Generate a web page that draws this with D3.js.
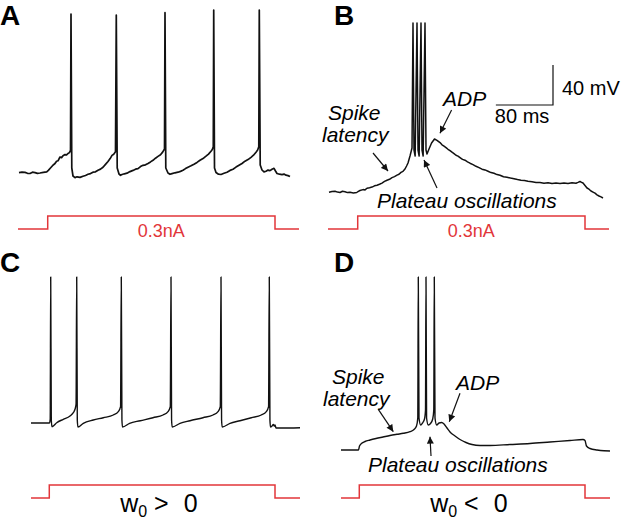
<!DOCTYPE html>
<html>
<head>
<meta charset="utf-8">
<script src="https://cdn.jsdelivr.net/npm/d3@7"></script>
<style>
  body { margin: 0; background: #fff; }
  svg { display: block; }
  text { font-family: "Liberation Sans", Arial, Helvetica, sans-serif; }
</style>
</head>
<body>
<svg id="fig" width="626" height="524"></svg>
<script>
// membrane potential traces, [time (ms), V (mV)]
const traceA = [[1.4,-69.7],[5.6,-69.1],[9.8,-69.4],[13.3,-70.3],[16.8,-70.5],[20.3,-69.2],[23.8,-69.6],[27.3,-70.4],[30.8,-70],[35.5,-69.3],[40.2,-68.9],[42.5,-67.4],[44.8,-65.5],[48.3,-62.7],[51.8,-60.5],[54,-58.2],[56,-57.8],[58.8,-54],[61,-54.6],[63,-52.8],[65.8,-51.6],[68,-51.9],[70,-50.5],[72,-49.6],[73.5,-47.5],[74.2,89],[75.3,-65],[77,-73],[79.8,-74.6],[82.6,-73.8],[86.8,-74.4],[91,-73.2],[94.5,-72.5],[98,-71.3],[101.5,-70.6],[105,-69.2],[108.5,-68.8],[112,-67.2],[115.5,-66.1],[119,-64.3],[122.5,-61.4],[126,-58.5],[129,-55.6],[131.6,-52.4],[134,-51.2],[136.5,-48.8],[137.6,88],
  [138.9,-65],[141.4,-71],[143.5,-72.3],[145.6,-71.5],[149,-70.8],[152.6,-70.2],[156.8,-68.6],[161,-67.4],[164.5,-66.2],[168,-65.7],[171.5,-63.6],[175,-62.3],[178.5,-61.8],[182,-60.4],[185.5,-58.9],[189,-57.3],[192.5,-55.2],[196,-53.4],[199.5,-51.8],[202.5,-49.1],[205.1,-46],[205.8,90.3],
  [206.9,-65],[210,-70],[212.8,-71.3],[215.6,-70.6],[219.8,-69.8],[224,-69.2],[227.5,-68.4],[231,-67.3],[234.5,-65.6],[238,-64.2],[242.2,-62.8],[246.4,-61.2],[250.6,-59.4],[254.8,-57.3],[259,-55.6],[263.2,-53.2],[266.7,-51.1],[270.2,-48.3],[272,-46.5],[273.4,-43.7],[274,93],
  [275.1,-65],[277.2,-69.5],[280.7,-71.2],[284.2,-71.5],[288.4,-70.3],[292.6,-69.2],[296.8,-67.4],[301,-66.2],[305.2,-64.1],[309.4,-62.3],[313.6,-60.5],[317.8,-58.2],[322,-56.6],[326.2,-54.3],[329.7,-52.2],[333.2,-49.2],[335.5,-47.1],[337.1,-43.7],[337.8,93],
  [339.1,-62],[341.6,-67],[344.4,-68.9],[347.2,-68.3],[350,-67.1],[352.8,-67.6],[355.6,-66.2],[358.4,-65.3],[360.5,-68],[362.6,-70.5],[366.1,-71.2],[369.6,-71.6],[372.4,-71.1],[375.2,-72.2],[378,-72.6],[380.8,-73.5]];

const traceB = [[1.4,-70.3],[5.6,-69.6],[9.8,-69.2],[13.3,-70.1],[16.8,-70.5],[20.3,-69.3],[23.8,-69.7],[27.3,-70.6],[30.8,-70.3],[35.5,-70.9],[40.2,-70.5],[42.5,-69.4],[44.8,-68.5],[49,-67.6],[51.8,-67.9],[54.6,-66.2],[58.1,-65.7],[61.6,-65.1],[65.1,-63.8],[68.6,-63.2],[72.1,-62.3],[75.6,-61.1],[79.1,-59.4],[82.6,-58.2],[86.1,-57.3],[89.6,-55.6],[93.1,-54.6],[96.6,-53.1],[99.4,-52.2],[102.2,-50.4],[105,-49.3],[107.8,-47],[110,-44],[112,-41],[114.8,-34],[117.6,-26],
  [119,99],[120.4,-28],[122,-34],[124.6,99],[126,-28],[127.6,-34],[130.2,99],[131.6,-28],[133.2,-34],[135.8,99],[137.2,-28],[138.6,-32],
  [141.4,-27],[145,-21],[149.1,-17],[152.6,-18.3],[156.8,-20.6],[159.6,-22.8],[162.4,-24.2],[165.2,-25.6],[168,-27.3],[170.8,-28.6],[173.6,-30.2],[176.4,-31.6],[179.2,-33.3],[182,-34.1],[184.8,-35.6],[188.3,-37.4],[191.8,-38.2],[195.3,-39.8],[198.8,-41.2],[203,-42.6],[207.2,-44.3],[211.4,-45.6],[215.6,-47.2],[219.8,-47.9],[224,-49.2],[228.2,-50.6],[232.4,-51.3],[236.6,-52.6],[240.8,-53.2],[245.7,-54.8],[250.6,-55.3],[255.5,-56.1],[260.4,-56.8],[265.3,-57.6],[270.2,-58.3],[275.1,-58.6],[280,-59.3],[285.6,-59.8],[291.2,-60.4],[296.8,-60.6],[302.4,-61.2],[308,-60.7],[313.6,-61.6],[319.2,-61.1],[324.8,-61.4],[330.4,-60.9],[336,-61.6],[341.6,-60.8],[347.2,-61.2],[350,-60.4],[352.8,-59.5],[355,-60.3],[357,-61],[362.6,-66],[365.4,-67.2],[368.2,-69],[371,-70.1],[373.8,-71.2],[376.6,-72.8],[379.4,-74],[382.2,-74.9],[385,-76]];

const traceC = [[0,-70],[25.9,-70],[26.9,-66],[27.6,76],[28.4,-67],[29.4,-73.7],[36,-69.7],[45.2,-66.3],[54.6,-63],[59.2,-59.7],[61.6,-56.3],[63.1,-51],[64,76],[64.8,-67],[65.7,-74],[73.2,-70.3],[87.2,-67],[101.2,-64.7],[115.2,-62],[122.2,-58.7],[125.4,-53.7],[126.4,76],[127.3,-67],[128.1,-74],[138,-70.3],[153,-67.7],[170.8,-64.7],[184.8,-62],[191.8,-58.7],[195,-53.7],[196,76],[196.8,-67],[197.7,-74],[208.6,-70.3],[222.6,-67.7],[240.8,-64.7],[254.8,-62],[261.8,-58.7],[265,-53.7],[266,76],[266.8,-67],[267.7,-74],[278.6,-70.3],[292.6,-67.7],[308.4,-64.7],[322.4,-62],[329.4,-58.7],[332.6,-53.7],[333.6,76],[334.5,-67],[335.3,-74],[337.4,-73],[339.2,-71.5],[340.6,-73],[341.6,-72],[343,-75],[348.6,-75],[376.6,-74.7]];

const traceD = [[0,-70],[24.5,-70],[25.9,-66],[29,-63.3],[33.6,-61.5],[40.6,-60],[49,-58.5],[58.8,-57],[68.6,-55.5],[78.4,-54.3],[87.2,-53.3],[96.6,-51.7],[102.2,-49.5],[105.7,-46],[107.5,-38],[108.2,103],[109.2,-38],[111.6,-45],[114.1,-43],[116.9,-39],[118.3,-30],[119,103],[119.8,-38],[122.2,-45],[125.3,-43.5],[128.4,-39],[129.9,-30],[130.6,103],[131.6,-38],[134,-45],[137.2,-43],[141,-42.5],[144.2,-44],[148.4,-48],[152.6,-52],[159.6,-56],[166.6,-59.5],[175,-62.5],[183.4,-64.5],[194.6,-65.5],[208.6,-65.5],[236.6,-64.5],[264.6,-63.5],[292.6,-62],[320.6,-60.5],[338.8,-59.5],[341.6,-60.5],[343.7,-66],[348.6,-68.5],[358.4,-70],[368.2,-70.8],[376.6,-71]];

// injected current steps: times (ms) and amplitude (nA)
const stepTimesAB = [0, 41.6, 359.8, 393.4];
const stepTimesCD = [0, 25.6, 341.6, 376.6];
const stepAmps = [0, 0.3, 0, 0];

const panelLetters = ["A", "B", "C", "D"];
const scaleBarMs = 80;
const scaleBarMv = 40;

// annotation arrows [tail t, tail V, tip t, tip V]
const arrowsB = [[63, -31, 84, -49], [173, 12, 156.8, -11.3], [152.6, -66, 134.4, -38]];
const arrowsD = [[52.2, -29.3, 73.2, -51.7], [166.6, -13.3, 151.6, -41.7], [126, -76, 124.6, -56.7]];

const red = "#e2363a";
const svg = d3.select("#fig");

svg.append("defs").append("marker")
    .attr("id", "head")
    .attr("viewBox", "0 0 10 10")
    .attr("refX", 10).attr("refY", 5)
    .attr("markerUnits", "userSpaceOnUse")
    .attr("markerWidth", 8).attr("markerHeight", 7)
    .attr("orient", "auto")
  .append("path")
    .attr("d", "M0,0L10,5L0,10z")
    .attr("fill", "#111");

const panels = [
  {letter: panelLetters[0], lx: 0, ly: 25, trace: traceA, steps: stepTimesAB, x0: 18, yRest: 173, yBase: 229, smooth: false, sw: 1.7},
  {letter: panelLetters[1], lx: 334, ly: 25, trace: traceB, steps: stepTimesAB, x0: 328, yRest: 192, yBase: 229, smooth: false, sw: 1.5},
  {letter: panelLetters[2], lx: 0, ly: 272, trace: traceC, steps: stepTimesCD, x0: 31, yRest: 423, yBase: 498, smooth: true, sw: 1.4},
  {letter: panelLetters[3], lx: 334, ly: 272, trace: traceD, steps: stepTimesCD, x0: 341, yRest: 450, yBase: 498, smooth: true, sw: 1.4}
];

panels.forEach(p => {
  const x = d3.scaleLinear().domain([0, 400]).range([p.x0, p.x0 + 400 / 1.4]);
  const y = d3.scaleLinear().domain([-70, 130]).range([p.yRest, p.yRest - 200]);
  const yI = d3.scaleLinear().domain([0, 0.3]).range([p.yBase, p.yBase - 13]);
  p.x = x; p.y = y;

  svg.append("text")
    .attr("x", p.lx).attr("y", p.ly)
    .attr("font-size", 28).attr("font-weight", "bold")
    .text(p.letter);

  const line = d3.line()
    .x(d => x(d[0]))
    .y(d => y(d[1]))
    .curve(p.smooth ? d3.curveMonotoneX : d3.curveLinear);

  svg.append("path")
    .datum(p.trace)
    .attr("d", line)
    .attr("fill", "none")
    .attr("stroke", "#111")
    .attr("stroke-width", p.sw)
    .attr("stroke-linejoin", "round");

  const step = d3.line()
    .x(d => x(d[0]))
    .y(d => yI(d[1]))
    .curve(d3.curveStepAfter);

  svg.append("path")
    .datum(p.steps.map((t, i) => [t, stepAmps[i]]))
    .attr("d", step)
    .attr("fill", "none")
    .attr("stroke", red)
    .attr("stroke-width", 1.5);
});

// current labels for A and B
[0, 1].forEach(i => {
  const p = panels[i];
  svg.append("text")
    .attr("x", p.x((p.steps[1] + p.steps[2]) / 2))
    .attr("y", 237)
    .attr("text-anchor", "middle")
    .attr("font-size", 18)
    .attr("fill", red)
    .text("0.3nA");
});

// w0 labels for C and D
[[2, ">"], [3, "<"]].forEach(([i, sign]) => {
  const p = panels[i];
  const cx = p.x((p.steps[1] + p.steps[2]) / 2);
  const t = svg.append("text")
    .attr("x", cx - 42).attr("y", 512)
    .attr("font-size", 25);
  t.append("tspan").text("w");
  t.append("tspan").attr("font-size", 16).attr("dy", 5).text("0");
  t.append("tspan").attr("dx", 7).attr("dy", -5).text(sign);
  t.append("tspan").attr("dx", 15).text("0");
});

// annotations
function annotate(p, arrows, labels) {
  arrows.forEach(a => {
    svg.append("line")
      .attr("x1", p.x(a[0])).attr("y1", p.y(a[1]))
      .attr("x2", p.x(a[2])).attr("y2", p.y(a[3]))
      .attr("stroke", "#111")
      .attr("stroke-width", 1.2)
      .attr("marker-end", "url(#head)");
  });
  labels.forEach(l => {
    svg.append("text")
      .attr("x", l[1]).attr("y", l[2])
      .attr("font-size", 21)
      .attr("font-style", "italic")
      .text(l[0]);
  });
}

annotate(panels[1], arrowsB, [["Spike", 328, 120], ["latency", 322, 142], ["ADP", 443, 106], ["Plateau oscillations", 377, 208]]);
annotate(panels[3], arrowsD, [["Spike", 332, 384], ["latency", 323, 406], ["ADP", 456, 390], ["Plateau oscillations", 368, 472]]);

// scale bar in panel B
const pb = panels[1];
const sbT = 315, sbV = 17;
svg.append("path")
  .attr("d", d3.line()([
    [pb.x(sbT - scaleBarMs), pb.y(sbV)],
    [pb.x(sbT), pb.y(sbV)],
    [pb.x(sbT), pb.y(sbV + scaleBarMv)]
  ]))
  .attr("fill", "none")
  .attr("stroke", "#111")
  .attr("stroke-width", 1.2);

svg.append("text")
  .attr("x", pb.x(sbT) + 9).attr("y", 95)
  .attr("font-size", 20)
  .text(scaleBarMv + " mV");

svg.append("text")
  .attr("x", pb.x(sbT - scaleBarMs) - 1).attr("y", 123)
  .attr("font-size", 20)
  .text(scaleBarMs + " ms");
</script>
</body>
</html>
